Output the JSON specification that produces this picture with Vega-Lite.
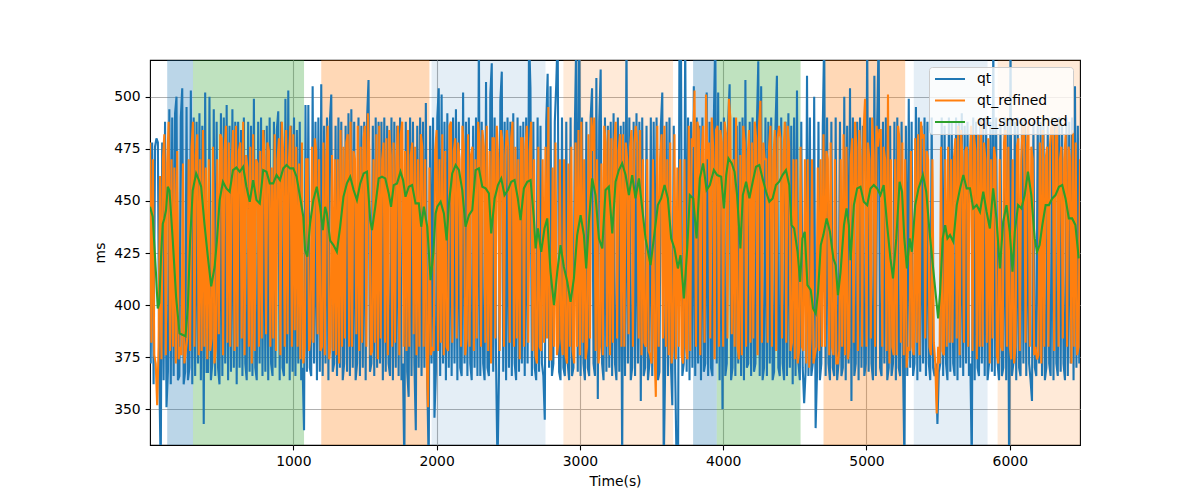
{
"$schema": "https://vega.github.io/schema/vega-lite/v6.json",
"width": 930, "height": 385,
"autosize": {"type": "none"},
"padding": {"left": 150, "top": 60, "right": 120, "bottom": 55},
"background": "white",
"config": {
  "font": "DejaVu Sans",
  "view": {"stroke": "black", "strokeWidth": 1.1},
  "axis": {"labelFont": "DejaVu Sans", "labelFontSize": 13.9, "labelColor": "black", "titleFont": "DejaVu Sans", "titleFontSize": 13.9, "titleFontWeight": "normal", "titleColor": "black", "tickColor": "black", "tickSize": 4.9, "tickWidth": 1.1, "domain": false, "gridColor": "#b0b0b0", "gridWidth": 1.1, "labelPadding": 4.9}
},
"datasets": {
"spans": [
{"start":120,"end":300,"phase":"A"},{"start":300,"end":1075,"phase":"B"},{"start":1195,"end":1950,"phase":"C"},{"start":1965,"end":2760,"phase":"D"},{"start":2885,"end":3650,"phase":"E"},
{"start":3790,"end":3955,"phase":"A"},{"start":3955,"end":4540,"phase":"B"},{"start":4700,"end":5270,"phase":"C"},{"start":5330,"end":5845,"phase":"D"},{"start":5915,"end":6490,"phase":"E"}
],
"qt": [
{"t":5,"v":372},{"t":15,"v":478},{"t":25,"v":362},{"t":35,"v":476},{"t":45,"v":480},{"t":55,"v":478},{"t":65,"v":366},{"t":75,"v":320},{"t":85,"v":478},{"t":95,"v":364},
{"t":105,"v":488},{"t":115,"v":351},{"t":125,"v":368},{"t":135,"v":494},{"t":145,"v":362},{"t":155,"v":490},{"t":165,"v":366},{"t":175,"v":492},{"t":185,"v":500},{"t":195,"v":364},
{"t":205,"v":366},{"t":215,"v":490},{"t":225,"v":504},{"t":235,"v":362},{"t":245,"v":368},{"t":255,"v":495},{"t":265,"v":364},{"t":275,"v":370},{"t":285,"v":503},{"t":295,"v":362},
{"t":305,"v":490},{"t":315,"v":366},{"t":325,"v":488},{"t":335,"v":372},{"t":345,"v":492},{"t":355,"v":364},{"t":365,"v":486},{"t":375,"v":343},{"t":385,"v":502},{"t":395,"v":368},
{"t":405,"v":368},{"t":415,"v":500},{"t":425,"v":364},{"t":435,"v":372},{"t":445,"v":494},{"t":455,"v":366},{"t":465,"v":488},{"t":475,"v":370},{"t":485,"v":362},{"t":495,"v":492},
{"t":505,"v":366},{"t":515,"v":490},{"t":525,"v":372},{"t":535,"v":496},{"t":545,"v":364},{"t":555,"v":486},{"t":565,"v":368},{"t":575,"v":494},{"t":585,"v":370},{"t":595,"v":488},
{"t":605,"v":362},{"t":615,"v":488},{"t":625,"v":370},{"t":635,"v":484},{"t":645,"v":366},{"t":655,"v":490},{"t":665,"v":372},{"t":675,"v":364},{"t":685,"v":488},{"t":695,"v":368},
{"t":705,"v":486},{"t":715,"v":366},{"t":725,"v":499},{"t":735,"v":370},{"t":745,"v":364},{"t":755,"v":488},{"t":765,"v":372},{"t":775,"v":490},{"t":785,"v":366},{"t":795,"v":484},
{"t":805,"v":368},{"t":815,"v":486},{"t":825,"v":364},{"t":835,"v":490},{"t":845,"v":372},{"t":855,"v":366},{"t":865,"v":488},{"t":875,"v":370},{"t":885,"v":484},{"t":895,"v":493},
{"t":905,"v":364},{"t":915,"v":488},{"t":925,"v":370},{"t":935,"v":366},{"t":945,"v":499},{"t":955,"v":372},{"t":965,"v":503},{"t":975,"v":364},{"t":985,"v":486},{"t":995,"v":368},
{"t":1005,"v":490},{"t":1015,"v":366},{"t":1025,"v":484},{"t":1035,"v":372},{"t":1045,"v":488},{"t":1055,"v":364},{"t":1065,"v":370},{"t":1075,"v":340},{"t":1085,"v":496},{"t":1095,"v":368},
{"t":1105,"v":496},{"t":1115,"v":370},{"t":1125,"v":366},{"t":1135,"v":505},{"t":1145,"v":372},{"t":1155,"v":488},{"t":1165,"v":364},{"t":1175,"v":490},{"t":1185,"v":368},{"t":1195,"v":506},
{"t":1205,"v":366},{"t":1215,"v":486},{"t":1225,"v":372},{"t":1235,"v":490},{"t":1245,"v":364},{"t":1255,"v":488},{"t":1265,"v":501},{"t":1275,"v":368},{"t":1285,"v":372},{"t":1295,"v":486},
{"t":1305,"v":366},{"t":1315,"v":490},{"t":1325,"v":370},{"t":1335,"v":488},{"t":1345,"v":364},{"t":1355,"v":372},{"t":1365,"v":486},{"t":1375,"v":368},{"t":1385,"v":492},{"t":1395,"v":366},
{"t":1405,"v":494},{"t":1415,"v":370},{"t":1425,"v":488},{"t":1435,"v":364},{"t":1445,"v":372},{"t":1455,"v":490},{"t":1465,"v":366},{"t":1475,"v":486},{"t":1485,"v":370},{"t":1495,"v":488},
{"t":1505,"v":364},{"t":1515,"v":490},{"t":1525,"v":508},{"t":1535,"v":368},{"t":1545,"v":372},{"t":1555,"v":486},{"t":1565,"v":366},{"t":1575,"v":490},{"t":1585,"v":370},{"t":1595,"v":488},
{"t":1605,"v":372},{"t":1615,"v":488},{"t":1625,"v":364},{"t":1635,"v":490},{"t":1645,"v":368},{"t":1655,"v":486},{"t":1665,"v":372},{"t":1675,"v":366},{"t":1685,"v":490},{"t":1695,"v":364},
{"t":1705,"v":488},{"t":1715,"v":370},{"t":1725,"v":486},{"t":1735,"v":366},{"t":1745,"v":490},{"t":1755,"v":364},{"t":1765,"v":372},{"t":1775,"v":322},{"t":1785,"v":488},{"t":1795,"v":368},
{"t":1805,"v":356},{"t":1815,"v":490},{"t":1825,"v":366},{"t":1835,"v":488},{"t":1845,"v":372},{"t":1855,"v":340},{"t":1865,"v":486},{"t":1875,"v":370},{"t":1885,"v":490},{"t":1895,"v":366},
{"t":1905,"v":488},{"t":1915,"v":370},{"t":1925,"v":497},{"t":1935,"v":364},{"t":1945,"v":322},{"t":1955,"v":486},{"t":1965,"v":372},{"t":1975,"v":490},{"t":1985,"v":346},{"t":1995,"v":368},
{"t":2005,"v":490},{"t":2015,"v":504},{"t":2025,"v":366},{"t":2035,"v":501},{"t":2045,"v":372},{"t":2055,"v":488},{"t":2065,"v":364},{"t":2075,"v":492},{"t":2085,"v":370},{"t":2095,"v":486},
{"t":2105,"v":366},{"t":2115,"v":490},{"t":2125,"v":372},{"t":2135,"v":494},{"t":2145,"v":364},{"t":2155,"v":488},{"t":2165,"v":370},{"t":2175,"v":366},{"t":2185,"v":502},{"t":2195,"v":372},
{"t":2205,"v":488},{"t":2215,"v":366},{"t":2225,"v":490},{"t":2235,"v":372},{"t":2245,"v":364},{"t":2255,"v":486},{"t":2265,"v":370},{"t":2275,"v":490},{"t":2285,"v":366},{"t":2295,"v":530},
{"t":2305,"v":366},{"t":2315,"v":488},{"t":2325,"v":372},{"t":2335,"v":364},{"t":2345,"v":507},{"t":2355,"v":370},{"t":2365,"v":366},{"t":2375,"v":501},{"t":2385,"v":516},{"t":2395,"v":368},
{"t":2405,"v":490},{"t":2415,"v":372},{"t":2425,"v":322},{"t":2435,"v":366},{"t":2445,"v":498},{"t":2455,"v":512},{"t":2465,"v":368},{"t":2475,"v":488},{"t":2485,"v":364},{"t":2495,"v":490},
{"t":2505,"v":370},{"t":2515,"v":488},{"t":2525,"v":366},{"t":2535,"v":492},{"t":2545,"v":372},{"t":2555,"v":364},{"t":2565,"v":490},{"t":2575,"v":368},{"t":2585,"v":486},{"t":2595,"v":372},
{"t":2605,"v":488},{"t":2615,"v":366},{"t":2625,"v":490},{"t":2635,"v":372},{"t":2645,"v":530},{"t":2655,"v":504},{"t":2665,"v":366},{"t":2675,"v":488},{"t":2685,"v":370},{"t":2695,"v":364},
{"t":2705,"v":490},{"t":2715,"v":368},{"t":2725,"v":486},{"t":2735,"v":372},{"t":2745,"v":366},{"t":2755,"v":345},{"t":2765,"v":488},{"t":2775,"v":511},{"t":2785,"v":370},{"t":2795,"v":505},
{"t":2805,"v":366},{"t":2815,"v":372},{"t":2825,"v":488},{"t":2835,"v":506},{"t":2845,"v":530},{"t":2855,"v":368},{"t":2865,"v":364},{"t":2875,"v":490},{"t":2885,"v":370},{"t":2895,"v":366},
{"t":2905,"v":488},{"t":2915,"v":372},{"t":2925,"v":364},{"t":2935,"v":490},{"t":2945,"v":366},{"t":2955,"v":370},{"t":2965,"v":486},{"t":2975,"v":530},{"t":2985,"v":368},{"t":2995,"v":530},
{"t":3005,"v":366},{"t":3015,"v":490},{"t":3025,"v":372},{"t":3035,"v":364},{"t":3045,"v":488},{"t":3055,"v":370},{"t":3065,"v":366},{"t":3075,"v":490},{"t":3085,"v":504},{"t":3095,"v":372},
{"t":3105,"v":366},{"t":3115,"v":509},{"t":3125,"v":355},{"t":3135,"v":488},{"t":3145,"v":513},{"t":3155,"v":372},{"t":3165,"v":364},{"t":3175,"v":490},{"t":3185,"v":368},{"t":3195,"v":486},
{"t":3205,"v":370},{"t":3215,"v":488},{"t":3225,"v":366},{"t":3235,"v":492},{"t":3245,"v":372},{"t":3255,"v":364},{"t":3265,"v":490},{"t":3275,"v":368},{"t":3285,"v":486},{"t":3295,"v":322},
{"t":3305,"v":488},{"t":3315,"v":366},{"t":3325,"v":530},{"t":3335,"v":372},{"t":3345,"v":490},{"t":3355,"v":364},{"t":3365,"v":370},{"t":3375,"v":488},{"t":3385,"v":366},{"t":3395,"v":492},
{"t":3405,"v":372},{"t":3415,"v":488},{"t":3425,"v":354},{"t":3435,"v":490},{"t":3445,"v":366},{"t":3455,"v":370},{"t":3465,"v":486},{"t":3475,"v":364},{"t":3485,"v":372},{"t":3495,"v":490},
{"t":3505,"v":366},{"t":3515,"v":488},{"t":3525,"v":372},{"t":3535,"v":490},{"t":3545,"v":364},{"t":3555,"v":368},{"t":3565,"v":486},{"t":3575,"v":502},{"t":3585,"v":322},{"t":3595,"v":370},
{"t":3605,"v":488},{"t":3615,"v":366},{"t":3625,"v":490},{"t":3635,"v":372},{"t":3645,"v":352},{"t":3655,"v":486},{"t":3665,"v":368},{"t":3675,"v":322},{"t":3685,"v":322},{"t":3695,"v":530},
{"t":3705,"v":530},{"t":3715,"v":366},{"t":3725,"v":372},{"t":3735,"v":530},{"t":3745,"v":368},{"t":3755,"v":490},{"t":3765,"v":364},{"t":3775,"v":488},{"t":3785,"v":370},{"t":3795,"v":505},
{"t":3805,"v":366},{"t":3815,"v":490},{"t":3825,"v":372},{"t":3835,"v":486},{"t":3845,"v":364},{"t":3855,"v":490},{"t":3865,"v":368},{"t":3875,"v":372},{"t":3885,"v":502},{"t":3895,"v":366},
{"t":3905,"v":488},{"t":3915,"v":370},{"t":3925,"v":366},{"t":3935,"v":490},{"t":3945,"v":530},{"t":3955,"v":372},{"t":3965,"v":502},{"t":3975,"v":364},{"t":3985,"v":488},{"t":3995,"v":350},
{"t":4005,"v":490},{"t":4015,"v":366},{"t":4025,"v":372},{"t":4035,"v":488},{"t":4045,"v":506},{"t":4055,"v":364},{"t":4065,"v":370},{"t":4075,"v":490},{"t":4085,"v":366},{"t":4095,"v":486},
{"t":4105,"v":372},{"t":4115,"v":488},{"t":4125,"v":366},{"t":4135,"v":490},{"t":4145,"v":364},{"t":4155,"v":508},{"t":4165,"v":370},{"t":4175,"v":372},{"t":4185,"v":488},{"t":4195,"v":366},
{"t":4205,"v":490},{"t":4215,"v":368},{"t":4225,"v":372},{"t":4235,"v":486},{"t":4245,"v":517},{"t":4255,"v":366},{"t":4265,"v":505},{"t":4275,"v":364},{"t":4285,"v":370},{"t":4295,"v":490},
{"t":4305,"v":366},{"t":4315,"v":488},{"t":4325,"v":372},{"t":4335,"v":490},{"t":4345,"v":364},{"t":4355,"v":368},{"t":4365,"v":486},{"t":4375,"v":510},{"t":4385,"v":370},{"t":4395,"v":366},
{"t":4405,"v":490},{"t":4415,"v":372},{"t":4425,"v":364},{"t":4435,"v":488},{"t":4445,"v":366},{"t":4455,"v":492},{"t":4465,"v":370},{"t":4475,"v":486},{"t":4485,"v":362},{"t":4495,"v":490},
{"t":4505,"v":366},{"t":4515,"v":503},{"t":4525,"v":372},{"t":4535,"v":364},{"t":4545,"v":488},{"t":4555,"v":370},{"t":4565,"v":353},{"t":4575,"v":368},{"t":4585,"v":510},{"t":4595,"v":366},
{"t":4605,"v":490},{"t":4615,"v":366},{"t":4625,"v":372},{"t":4635,"v":500},{"t":4645,"v":341},{"t":4655,"v":368},{"t":4665,"v":488},{"t":4675,"v":364},{"t":4685,"v":372},{"t":4695,"v":486},
{"t":4705,"v":530},{"t":4715,"v":366},{"t":4725,"v":490},{"t":4735,"v":372},{"t":4745,"v":364},{"t":4755,"v":488},{"t":4765,"v":370},{"t":4775,"v":366},{"t":4785,"v":490},{"t":4795,"v":364},
{"t":4805,"v":372},{"t":4815,"v":488},{"t":4825,"v":366},{"t":4835,"v":370},{"t":4845,"v":500},{"t":4855,"v":364},{"t":4865,"v":486},{"t":4875,"v":372},{"t":4885,"v":504},{"t":4895,"v":354},
{"t":4905,"v":490},{"t":4915,"v":366},{"t":4925,"v":372},{"t":4935,"v":488},{"t":4945,"v":364},{"t":4955,"v":490},{"t":4965,"v":370},{"t":4975,"v":486},{"t":4985,"v":366},{"t":4995,"v":372},
{"t":5005,"v":530},{"t":5015,"v":368},{"t":5025,"v":490},{"t":5035,"v":372},{"t":5045,"v":364},{"t":5055,"v":510},{"t":5065,"v":366},{"t":5075,"v":488},{"t":5085,"v":530},{"t":5095,"v":370},
{"t":5105,"v":366},{"t":5115,"v":488},{"t":5125,"v":372},{"t":5135,"v":490},{"t":5145,"v":364},{"t":5155,"v":370},{"t":5165,"v":486},{"t":5175,"v":366},{"t":5185,"v":372},{"t":5195,"v":488},
{"t":5205,"v":364},{"t":5215,"v":490},{"t":5225,"v":370},{"t":5235,"v":366},{"t":5245,"v":488},{"t":5255,"v":372},{"t":5265,"v":322},{"t":5275,"v":486},{"t":5285,"v":366},{"t":5295,"v":499},
{"t":5305,"v":370},{"t":5315,"v":488},{"t":5325,"v":366},{"t":5335,"v":372},{"t":5345,"v":495},{"t":5355,"v":364},{"t":5365,"v":490},{"t":5375,"v":368},{"t":5385,"v":486},{"t":5395,"v":372},
{"t":5405,"v":490},{"t":5415,"v":366},{"t":5425,"v":488},{"t":5435,"v":372},{"t":5445,"v":364},{"t":5455,"v":490},{"t":5465,"v":370},{"t":5475,"v":366},{"t":5485,"v":372},{"t":5495,"v":343},
{"t":5505,"v":368},{"t":5515,"v":372},{"t":5525,"v":490},{"t":5535,"v":366},{"t":5545,"v":486},{"t":5555,"v":372},{"t":5565,"v":364},{"t":5575,"v":490},{"t":5585,"v":368},{"t":5595,"v":488},
{"t":5605,"v":372},{"t":5615,"v":366},{"t":5625,"v":490},{"t":5635,"v":364},{"t":5645,"v":488},{"t":5655,"v":370},{"t":5665,"v":492},{"t":5675,"v":366},{"t":5685,"v":486},{"t":5695,"v":372},
{"t":5705,"v":488},{"t":5715,"v":366},{"t":5725,"v":372},{"t":5735,"v":322},{"t":5745,"v":490},{"t":5755,"v":364},{"t":5765,"v":488},{"t":5775,"v":370},{"t":5785,"v":366},{"t":5795,"v":490},
{"t":5805,"v":372},{"t":5815,"v":486},{"t":5825,"v":366},{"t":5835,"v":490},{"t":5845,"v":364},{"t":5855,"v":372},{"t":5865,"v":488},{"t":5875,"v":368},{"t":5885,"v":530},{"t":5895,"v":366},
{"t":5905,"v":490},{"t":5915,"v":372},{"t":5925,"v":364},{"t":5935,"v":488},{"t":5945,"v":366},{"t":5955,"v":370},{"t":5965,"v":490},{"t":5975,"v":364},{"t":5985,"v":486},{"t":5995,"v":322},
{"t":6005,"v":530},{"t":6015,"v":366},{"t":6025,"v":372},{"t":6035,"v":488},{"t":6045,"v":364},{"t":6055,"v":490},{"t":6065,"v":370},{"t":6075,"v":366},{"t":6085,"v":488},{"t":6095,"v":372},
{"t":6105,"v":490},{"t":6115,"v":366},{"t":6125,"v":486},{"t":6135,"v":372},{"t":6145,"v":364},{"t":6155,"v":354},{"t":6165,"v":488},{"t":6175,"v":370},{"t":6185,"v":366},{"t":6195,"v":490},
{"t":6205,"v":372},{"t":6215,"v":488},{"t":6225,"v":366},{"t":6235,"v":490},{"t":6245,"v":364},{"t":6255,"v":370},{"t":6265,"v":486},{"t":6275,"v":372},{"t":6285,"v":366},{"t":6295,"v":490},
{"t":6305,"v":364},{"t":6315,"v":488},{"t":6325,"v":372},{"t":6335,"v":366},{"t":6345,"v":490},{"t":6355,"v":368},{"t":6365,"v":486},{"t":6375,"v":372},{"t":6385,"v":364},{"t":6395,"v":490},
{"t":6405,"v":366},{"t":6415,"v":488},{"t":6425,"v":372},{"t":6435,"v":490},{"t":6445,"v":364},{"t":6455,"v":505},{"t":6465,"v":370},{"t":6475,"v":486},{"t":6485,"v":372}
],
"refined": [
{"t":0,"v":478},{"t":10,"v":382},{"t":20,"v":470},{"t":30,"v":376},{"t":40,"v":372},{"t":50,"v":352},{"t":60,"v":380},{"t":70,"v":462},{"t":80,"v":374},{"t":90,"v":470},
{"t":100,"v":482},{"t":110,"v":376},{"t":120,"v":468},{"t":130,"v":488},{"t":140,"v":378},{"t":150,"v":470},{"t":160,"v":380},{"t":170,"v":466},{"t":180,"v":372},{"t":190,"v":474},
{"t":200,"v":374},{"t":210,"v":380},{"t":220,"v":376},{"t":230,"v":468},{"t":240,"v":372},{"t":250,"v":378},{"t":260,"v":384},{"t":270,"v":470},{"t":280,"v":378},{"t":290,"v":476},
{"t":300,"v":488},{"t":310,"v":380},{"t":320,"v":472},{"t":330,"v":482},{"t":340,"v":376},{"t":350,"v":470},{"t":360,"v":378},{"t":370,"v":484},{"t":380,"v":380},{"t":390,"v":466},
{"t":400,"v":374},{"t":410,"v":470},{"t":420,"v":378},{"t":430,"v":384},{"t":440,"v":476},{"t":450,"v":372},{"t":460,"v":380},{"t":470,"v":470},{"t":480,"v":386},{"t":490,"v":482},
{"t":500,"v":480},{"t":510,"v":376},{"t":520,"v":474},{"t":530,"v":486},{"t":540,"v":382},{"t":550,"v":478},{"t":560,"v":380},{"t":570,"v":468},{"t":580,"v":484},{"t":590,"v":378},
{"t":600,"v":486},{"t":610,"v":380},{"t":620,"v":474},{"t":630,"v":478},{"t":640,"v":384},{"t":650,"v":488},{"t":660,"v":376},{"t":670,"v":472},{"t":680,"v":466},{"t":690,"v":380},
{"t":700,"v":476},{"t":710,"v":372},{"t":720,"v":482},{"t":730,"v":378},{"t":740,"v":470},{"t":750,"v":468},{"t":760,"v":380},{"t":770,"v":474},{"t":780,"v":384},{"t":790,"v":484},
{"t":800,"v":470},{"t":810,"v":386},{"t":820,"v":478},{"t":830,"v":474},{"t":840,"v":380},{"t":850,"v":466},{"t":860,"v":384},{"t":870,"v":482},{"t":880,"v":378},{"t":890,"v":470},
{"t":900,"v":480},{"t":910,"v":376},{"t":920,"v":488},{"t":930,"v":472},{"t":940,"v":380},{"t":950,"v":484},{"t":960,"v":386},{"t":970,"v":470},{"t":980,"v":486},{"t":990,"v":380},
{"t":1000,"v":482},{"t":1010,"v":388},{"t":1020,"v":476},{"t":1030,"v":380},{"t":1040,"v":468},{"t":1050,"v":374},{"t":1060,"v":478},{"t":1070,"v":372},{"t":1080,"v":380},{"t":1090,"v":470},
{"t":1100,"v":470},{"t":1110,"v":378},{"t":1120,"v":384},{"t":1130,"v":476},{"t":1140,"v":382},{"t":1150,"v":480},{"t":1160,"v":474},{"t":1170,"v":386},{"t":1180,"v":470},{"t":1190,"v":378},
{"t":1200,"v":380},{"t":1210,"v":478},{"t":1220,"v":376},{"t":1230,"v":470},{"t":1240,"v":486},{"t":1250,"v":374},{"t":1260,"v":380},{"t":1270,"v":472},{"t":1280,"v":378},{"t":1290,"v":470},
{"t":1300,"v":376},{"t":1310,"v":470},{"t":1320,"v":372},{"t":1330,"v":484},{"t":1340,"v":380},{"t":1350,"v":476},{"t":1360,"v":384},{"t":1370,"v":478},{"t":1380,"v":482},{"t":1390,"v":380},
{"t":1400,"v":488},{"t":1410,"v":380},{"t":1420,"v":474},{"t":1430,"v":470},{"t":1440,"v":386},{"t":1450,"v":486},{"t":1460,"v":378},{"t":1470,"v":476},{"t":1480,"v":382},{"t":1490,"v":480},
{"t":1500,"v":486},{"t":1510,"v":380},{"t":1520,"v":492},{"t":1530,"v":474},{"t":1540,"v":376},{"t":1550,"v":378},{"t":1560,"v":470},{"t":1570,"v":382},{"t":1580,"v":482},{"t":1590,"v":374},
{"t":1600,"v":486},{"t":1610,"v":384},{"t":1620,"v":470},{"t":1630,"v":478},{"t":1640,"v":382},{"t":1650,"v":480},{"t":1660,"v":376},{"t":1670,"v":484},{"t":1680,"v":472},{"t":1690,"v":380},
{"t":1700,"v":478},{"t":1710,"v":382},{"t":1720,"v":470},{"t":1730,"v":486},{"t":1740,"v":376},{"t":1750,"v":482},{"t":1760,"v":488},{"t":1770,"v":380},{"t":1780,"v":474},{"t":1790,"v":378},
{"t":1800,"v":484},{"t":1810,"v":380},{"t":1820,"v":472},{"t":1830,"v":478},{"t":1840,"v":386},{"t":1850,"v":476},{"t":1860,"v":376},{"t":1870,"v":470},{"t":1880,"v":380},{"t":1890,"v":482},
{"t":1900,"v":476},{"t":1910,"v":380},{"t":1920,"v":470},{"t":1930,"v":378},{"t":1940,"v":351},{"t":1950,"v":466},{"t":1960,"v":376},{"t":1970,"v":380},{"t":1980,"v":378},{"t":1990,"v":474},
{"t":2000,"v":484},{"t":2010,"v":378},{"t":2020,"v":470},{"t":2030,"v":382},{"t":2040,"v":482},{"t":2050,"v":376},{"t":2060,"v":474},{"t":2070,"v":380},{"t":2080,"v":378},{"t":2090,"v":486},
{"t":2100,"v":488},{"t":2110,"v":382},{"t":2120,"v":474},{"t":2130,"v":480},{"t":2140,"v":384},{"t":2150,"v":478},{"t":2160,"v":470},{"t":2170,"v":380},{"t":2180,"v":486},{"t":2190,"v":476},
{"t":2200,"v":376},{"t":2210,"v":384},{"t":2220,"v":482},{"t":2230,"v":380},{"t":2240,"v":472},{"t":2250,"v":476},{"t":2260,"v":378},{"t":2270,"v":470},{"t":2280,"v":384},{"t":2290,"v":488},
{"t":2300,"v":478},{"t":2310,"v":380},{"t":2320,"v":484},{"t":2330,"v":476},{"t":2340,"v":382},{"t":2350,"v":486},{"t":2360,"v":378},{"t":2370,"v":474},{"t":2380,"v":372},{"t":2390,"v":480},
{"t":2400,"v":480},{"t":2410,"v":384},{"t":2420,"v":486},{"t":2430,"v":470},{"t":2440,"v":378},{"t":2450,"v":484},{"t":2460,"v":478},{"t":2470,"v":380},{"t":2480,"v":472},{"t":2490,"v":484},
{"t":2500,"v":476},{"t":2510,"v":382},{"t":2520,"v":480},{"t":2530,"v":488},{"t":2540,"v":380},{"t":2550,"v":476},{"t":2560,"v":384},{"t":2570,"v":470},{"t":2580,"v":374},{"t":2590,"v":480},
{"t":2600,"v":480},{"t":2610,"v":380},{"t":2620,"v":476},{"t":2630,"v":486},{"t":2640,"v":382},{"t":2650,"v":474},{"t":2660,"v":488},{"t":2670,"v":378},{"t":2680,"v":470},{"t":2690,"v":376},
{"t":2700,"v":372},{"t":2710,"v":476},{"t":2720,"v":380},{"t":2730,"v":378},{"t":2740,"v":470},{"t":2750,"v":382},{"t":2760,"v":476},{"t":2770,"v":384},{"t":2780,"v":495},{"t":2790,"v":374},
{"t":2800,"v":374},{"t":2810,"v":466},{"t":2820,"v":380},{"t":2830,"v":478},{"t":2840,"v":376},{"t":2850,"v":382},{"t":2860,"v":470},{"t":2870,"v":384},{"t":2880,"v":376},{"t":2890,"v":470},
{"t":2900,"v":376},{"t":2910,"v":372},{"t":2920,"v":468},{"t":2930,"v":380},{"t":2940,"v":476},{"t":2950,"v":378},{"t":2960,"v":372},{"t":2970,"v":478},{"t":2980,"v":380},{"t":2990,"v":484},
{"t":3000,"v":376},{"t":3010,"v":488},{"t":3020,"v":382},{"t":3030,"v":470},{"t":3040,"v":374},{"t":3050,"v":380},{"t":3060,"v":482},{"t":3070,"v":384},{"t":3080,"v":490},{"t":3090,"v":474},
{"t":3100,"v":490},{"t":3110,"v":378},{"t":3120,"v":470},{"t":3130,"v":372},{"t":3140,"v":380},{"t":3150,"v":468},{"t":3160,"v":376},{"t":3170,"v":486},{"t":3180,"v":478},{"t":3190,"v":380},
{"t":3200,"v":484},{"t":3210,"v":376},{"t":3220,"v":480},{"t":3230,"v":382},{"t":3240,"v":478},{"t":3250,"v":488},{"t":3260,"v":384},{"t":3270,"v":474},{"t":3280,"v":482},{"t":3290,"v":380},
{"t":3300,"v":482},{"t":3310,"v":380},{"t":3320,"v":478},{"t":3330,"v":470},{"t":3340,"v":386},{"t":3350,"v":476},{"t":3360,"v":484},{"t":3370,"v":380},{"t":3380,"v":478},{"t":3390,"v":486},
{"t":3400,"v":478},{"t":3410,"v":384},{"t":3420,"v":484},{"t":3430,"v":376},{"t":3440,"v":470},{"t":3450,"v":382},{"t":3460,"v":380},{"t":3470,"v":470},{"t":3480,"v":378},{"t":3490,"v":376},
{"t":3500,"v":372},{"t":3510,"v":470},{"t":3520,"v":380},{"t":3530,"v":356},{"t":3540,"v":486},{"t":3550,"v":380},{"t":3560,"v":470},{"t":3570,"v":482},{"t":3580,"v":384},{"t":3590,"v":486},
{"t":3600,"v":380},{"t":3610,"v":470},{"t":3620,"v":376},{"t":3630,"v":478},{"t":3640,"v":372},{"t":3650,"v":380},{"t":3660,"v":482},{"t":3670,"v":374},{"t":3680,"v":466},{"t":3690,"v":380},
{"t":3700,"v":470},{"t":3710,"v":376},{"t":3720,"v":372},{"t":3730,"v":470},{"t":3740,"v":380},{"t":3750,"v":374},{"t":3760,"v":486},{"t":3770,"v":378},{"t":3780,"v":480},{"t":3790,"v":476},
{"t":3800,"v":503},{"t":3810,"v":380},{"t":3820,"v":488},{"t":3830,"v":484},{"t":3840,"v":376},{"t":3850,"v":472},{"t":3860,"v":486},{"t":3870,"v":382},{"t":3880,"v":501},{"t":3890,"v":470},
{"t":3900,"v":478},{"t":3910,"v":384},{"t":3920,"v":490},{"t":3930,"v":476},{"t":3940,"v":374},{"t":3950,"v":484},{"t":3960,"v":486},{"t":3970,"v":380},{"t":3980,"v":484},{"t":3990,"v":478},
{"t":4000,"v":380},{"t":4010,"v":488},{"t":4020,"v":482},{"t":4030,"v":384},{"t":4040,"v":499},{"t":4050,"v":490},{"t":4060,"v":386},{"t":4070,"v":470},{"t":4080,"v":380},{"t":4090,"v":490},
{"t":4100,"v":380},{"t":4110,"v":374},{"t":4120,"v":472},{"t":4130,"v":376},{"t":4140,"v":486},{"t":4150,"v":478},{"t":4160,"v":380},{"t":4170,"v":470},{"t":4180,"v":484},{"t":4190,"v":382},
{"t":4200,"v":478},{"t":4210,"v":384},{"t":4220,"v":488},{"t":4230,"v":480},{"t":4240,"v":376},{"t":4250,"v":486},{"t":4260,"v":498},{"t":4270,"v":382},{"t":4280,"v":478},{"t":4290,"v":470},
{"t":4300,"v":470},{"t":4310,"v":382},{"t":4320,"v":476},{"t":4330,"v":486},{"t":4340,"v":380},{"t":4350,"v":470},{"t":4360,"v":484},{"t":4370,"v":378},{"t":4380,"v":480},{"t":4390,"v":486},
{"t":4400,"v":480},{"t":4410,"v":384},{"t":4420,"v":472},{"t":4430,"v":488},{"t":4440,"v":382},{"t":4450,"v":486},{"t":4460,"v":476},{"t":4470,"v":378},{"t":4480,"v":382},{"t":4490,"v":470},
{"t":4500,"v":374},{"t":4510,"v":470},{"t":4520,"v":372},{"t":4530,"v":378},{"t":4540,"v":476},{"t":4550,"v":380},{"t":4560,"v":378},{"t":4570,"v":470},{"t":4580,"v":372},{"t":4590,"v":470},
{"t":4600,"v":370},{"t":4610,"v":384},{"t":4620,"v":470},{"t":4630,"v":372},{"t":4640,"v":376},{"t":4650,"v":380},{"t":4660,"v":466},{"t":4670,"v":378},{"t":4680,"v":470},{"t":4690,"v":380},
{"t":4700,"v":482},{"t":4710,"v":380},{"t":4720,"v":474},{"t":4730,"v":470},{"t":4740,"v":376},{"t":4750,"v":478},{"t":4760,"v":380},{"t":4770,"v":376},{"t":4780,"v":470},{"t":4790,"v":372},
{"t":4800,"v":372},{"t":4810,"v":378},{"t":4820,"v":470},{"t":4830,"v":380},{"t":4840,"v":482},{"t":4850,"v":376},{"t":4860,"v":476},{"t":4870,"v":374},{"t":4880,"v":380},{"t":4890,"v":470},
{"t":4900,"v":480},{"t":4910,"v":382},{"t":4920,"v":488},{"t":4930,"v":476},{"t":4940,"v":378},{"t":4950,"v":484},{"t":4960,"v":470},{"t":4970,"v":380},{"t":4980,"v":484},{"t":4990,"v":499},
{"t":5000,"v":380},{"t":5010,"v":478},{"t":5020,"v":470},{"t":5030,"v":384},{"t":5040,"v":490},{"t":5050,"v":472},{"t":5060,"v":380},{"t":5070,"v":486},{"t":5080,"v":476},{"t":5090,"v":484},
{"t":5100,"v":484},{"t":5110,"v":380},{"t":5120,"v":476},{"t":5130,"v":470},{"t":5140,"v":378},{"t":5150,"v":501},{"t":5160,"v":372},{"t":5170,"v":470},{"t":5180,"v":380},{"t":5190,"v":376},
{"t":5200,"v":470},{"t":5210,"v":376},{"t":5220,"v":486},{"t":5230,"v":480},{"t":5240,"v":382},{"t":5250,"v":478},{"t":5260,"v":376},{"t":5270,"v":470},{"t":5280,"v":370},{"t":5290,"v":380},
{"t":5300,"v":378},{"t":5310,"v":474},{"t":5320,"v":380},{"t":5330,"v":376},{"t":5340,"v":480},{"t":5350,"v":382},{"t":5360,"v":482},{"t":5370,"v":376},{"t":5380,"v":488},{"t":5390,"v":480},
{"t":5400,"v":482},{"t":5410,"v":384},{"t":5420,"v":474},{"t":5430,"v":470},{"t":5440,"v":380},{"t":5450,"v":376},{"t":5460,"v":470},{"t":5470,"v":382},{"t":5480,"v":372},{"t":5490,"v":348},
{"t":5500,"v":380},{"t":5510,"v":372},{"t":5520,"v":476},{"t":5530,"v":378},{"t":5540,"v":376},{"t":5550,"v":470},{"t":5560,"v":380},{"t":5570,"v":476},{"t":5580,"v":382},{"t":5590,"v":470},
{"t":5600,"v":382},{"t":5610,"v":470},{"t":5620,"v":480},{"t":5630,"v":384},{"t":5640,"v":486},{"t":5650,"v":376},{"t":5660,"v":484},{"t":5670,"v":470},{"t":5680,"v":382},{"t":5690,"v":474},
{"t":5700,"v":476},{"t":5710,"v":380},{"t":5720,"v":470},{"t":5730,"v":486},{"t":5740,"v":378},{"t":5750,"v":482},{"t":5760,"v":474},{"t":5770,"v":374},{"t":5780,"v":482},{"t":5790,"v":380},
{"t":5800,"v":488},{"t":5810,"v":380},{"t":5820,"v":478},{"t":5830,"v":470},{"t":5840,"v":382},{"t":5850,"v":480},{"t":5860,"v":372},{"t":5870,"v":470},{"t":5880,"v":384},{"t":5890,"v":476},
{"t":5900,"v":470},{"t":5910,"v":376},{"t":5920,"v":372},{"t":5930,"v":470},{"t":5940,"v":380},{"t":5950,"v":378},{"t":5960,"v":478},{"t":5970,"v":484},{"t":5980,"v":380},{"t":5990,"v":476},
{"t":6000,"v":380},{"t":6010,"v":374},{"t":6020,"v":470},{"t":6030,"v":372},{"t":6040,"v":380},{"t":6050,"v":476},{"t":6060,"v":480},{"t":6070,"v":378},{"t":6080,"v":470},{"t":6090,"v":486},
{"t":6100,"v":486},{"t":6110,"v":382},{"t":6120,"v":476},{"t":6130,"v":488},{"t":6140,"v":380},{"t":6150,"v":476},{"t":6160,"v":470},{"t":6170,"v":376},{"t":6180,"v":380},{"t":6190,"v":374},
{"t":6200,"v":376},{"t":6210,"v":478},{"t":6220,"v":372},{"t":6230,"v":484},{"t":6240,"v":380},{"t":6250,"v":470},{"t":6260,"v":476},{"t":6270,"v":380},{"t":6280,"v":476},{"t":6290,"v":486},
{"t":6300,"v":486},{"t":6310,"v":378},{"t":6320,"v":482},{"t":6330,"v":488},{"t":6340,"v":380},{"t":6350,"v":470},{"t":6360,"v":476},{"t":6370,"v":384},{"t":6380,"v":470},{"t":6390,"v":482},
{"t":6400,"v":380},{"t":6410,"v":476},{"t":6420,"v":470},{"t":6430,"v":372},{"t":6440,"v":484},{"t":6450,"v":380},{"t":6460,"v":478},{"t":6470,"v":376},{"t":6480,"v":380},{"t":6490,"v":470}
],
"smoothed": [
{"t":0,"v":447.2},{"t":19,"v":442.4},{"t":42,"v":415},{"t":54,"v":398.4},{"t":65,"v":401},{"t":77,"v":423},{"t":89,"v":439},{"t":100,"v":441.6},{"t":112,"v":445.6},{"t":124,"v":456.8},
{"t":136,"v":455},{"t":159,"v":431},{"t":182,"v":404},{"t":206,"v":386.5},{"t":229,"v":385.7},{"t":248,"v":385},{"t":264,"v":399},{"t":280,"v":431},{"t":298,"v":455},{"t":322,"v":463.2},
{"t":341,"v":460},{"t":357,"v":456.8},{"t":380,"v":439},{"t":404,"v":423},{"t":427,"v":409},{"t":451,"v":418.4},{"t":467,"v":431},{"t":486,"v":450.4},{"t":509,"v":459.2},{"t":533,"v":456},
{"t":556,"v":454.4},{"t":579,"v":464.8},{"t":603,"v":466},{"t":626,"v":464},{"t":650,"v":466.4},{"t":673,"v":456.8},{"t":696,"v":449.6},{"t":720,"v":460},{"t":743,"v":450.4},{"t":766,"v":448.8},
{"t":790,"v":464.8},{"t":813,"v":464},{"t":836,"v":458.4},{"t":860,"v":458.4},{"t":883,"v":462.4},{"t":907,"v":460},{"t":930,"v":465.6},{"t":953,"v":467.2},{"t":977,"v":465.6},{"t":1000,"v":465.6},
{"t":1023,"v":461.6},{"t":1047,"v":452},{"t":1070,"v":442.4},{"t":1082,"v":426.4},{"t":1098,"v":423.2},{"t":1117,"v":439.2},{"t":1140,"v":450.4},{"t":1164,"v":456.8},{"t":1187,"v":447.2},{"t":1206,"v":436},
{"t":1222,"v":447.2},{"t":1234,"v":444},{"t":1257,"v":431},{"t":1280,"v":428.8},{"t":1304,"v":425.6},{"t":1327,"v":437.6},{"t":1350,"v":452},{"t":1374,"v":458.4},{"t":1397,"v":461.6},{"t":1421,"v":455.2},
{"t":1444,"v":450.4},{"t":1467,"v":458.4},{"t":1491,"v":463.2},{"t":1514,"v":464},{"t":1537,"v":440.8},{"t":1549,"v":436},{"t":1572,"v":447.2},{"t":1596,"v":460.8},{"t":1619,"v":461.6},{"t":1642,"v":460.8},
{"t":1666,"v":453.6},{"t":1682,"v":447.2},{"t":1701,"v":457.6},{"t":1724,"v":458.4},{"t":1748,"v":464},{"t":1766,"v":460},{"t":1783,"v":452},{"t":1806,"v":456.8},{"t":1829,"v":457.6},{"t":1853,"v":448.8},
{"t":1876,"v":448.8},{"t":1893,"v":437.6},{"t":1911,"v":447.2},{"t":1935,"v":437.6},{"t":1958,"v":412},{"t":1977,"v":424.8},{"t":1993,"v":444},{"t":2005,"v":447.2},{"t":2028,"v":449.6},{"t":2051,"v":444},
{"t":2070,"v":431},{"t":2086,"v":448.6},{"t":2109,"v":463.2},{"t":2133,"v":467.2},{"t":2156,"v":464.8},{"t":2179,"v":455.2},{"t":2202,"v":437.6},{"t":2226,"v":443.2},{"t":2249,"v":445.6},{"t":2272,"v":464.8},
{"t":2295,"v":465.6},{"t":2319,"v":456.8},{"t":2342,"v":456},{"t":2365,"v":453.6},{"t":2381,"v":434.4},{"t":2405,"v":451.2},{"t":2428,"v":457.6},{"t":2451,"v":460.8},{"t":2474,"v":452.8},{"t":2498,"v":455.2},
{"t":2521,"v":459.2},{"t":2544,"v":460},{"t":2567,"v":451.2},{"t":2586,"v":440.8},{"t":2609,"v":456},{"t":2633,"v":459.2},{"t":2656,"v":460},{"t":2679,"v":441.6},{"t":2691,"v":427.2},{"t":2707,"v":436.8},
{"t":2730,"v":425.6},{"t":2753,"v":436.8},{"t":2772,"v":441.6},{"t":2795,"v":416},{"t":2819,"v":400},{"t":2842,"v":416},{"t":2865,"v":428.8},{"t":2888,"v":418.4},{"t":2912,"v":411.2},{"t":2935,"v":401.6},
{"t":2958,"v":412.8},{"t":2981,"v":433.6},{"t":3005,"v":443.2},{"t":3028,"v":433.6},{"t":3044,"v":417.6},{"t":3063,"v":440},{"t":3086,"v":460.8},{"t":3109,"v":452.8},{"t":3133,"v":432},{"t":3156,"v":427.2},
{"t":3179,"v":455.2},{"t":3202,"v":456.8},{"t":3226,"v":434.4},{"t":3249,"v":459.2},{"t":3272,"v":464.8},{"t":3295,"v":468},{"t":3319,"v":462.4},{"t":3342,"v":452.8},{"t":3365,"v":462.4},{"t":3388,"v":451.2},
{"t":3412,"v":460.8},{"t":3435,"v":446.4},{"t":3458,"v":432},{"t":3493,"v":419.2},{"t":3516,"v":432},{"t":3544,"v":448},{"t":3567,"v":451.2},{"t":3591,"v":457.6},{"t":3614,"v":451.2},{"t":3637,"v":432},
{"t":3660,"v":427.2},{"t":3684,"v":417.6},{"t":3702,"v":424},{"t":3726,"v":403.2},{"t":3749,"v":427.2},{"t":3767,"v":452.8},{"t":3791,"v":451.2},{"t":3814,"v":432},{"t":3837,"v":460.8},{"t":3860,"v":468},
{"t":3884,"v":455.2},{"t":3907,"v":457.6},{"t":3935,"v":464.8},{"t":3958,"v":462.4},{"t":3986,"v":461.6},{"t":4005,"v":446.4},{"t":4021,"v":462.4},{"t":4037,"v":470.4},{"t":4060,"v":468},{"t":4079,"v":464},
{"t":4097,"v":452.8},{"t":4120,"v":427.2},{"t":4137,"v":452.8},{"t":4160,"v":459.2},{"t":4183,"v":451.2},{"t":4206,"v":459.2},{"t":4229,"v":466.4},{"t":4252,"v":467.2},{"t":4275,"v":460.8},{"t":4299,"v":454.4},
{"t":4322,"v":449.6},{"t":4345,"v":451.2},{"t":4368,"v":457.6},{"t":4391,"v":459.2},{"t":4414,"v":462.4},{"t":4438,"v":464.8},{"t":4461,"v":457.6},{"t":4477,"v":438.4},{"t":4495,"v":436.8},{"t":4519,"v":425.6},
{"t":4537,"v":411.2},{"t":4553,"v":432},{"t":4569,"v":435.2},{"t":4588,"v":409.6},{"t":4611,"v":407.2},{"t":4627,"v":398.4},{"t":4646,"v":396},{"t":4662,"v":406.4},{"t":4681,"v":428.8},{"t":4699,"v":433.6},
{"t":4722,"v":441.6},{"t":4745,"v":435.2},{"t":4769,"v":422.4},{"t":4785,"v":419.2},{"t":4801,"v":404.8},{"t":4819,"v":416},{"t":4843,"v":438.4},{"t":4861,"v":446.4},{"t":4877,"v":438.4},{"t":4889,"v":421.6},
{"t":4912,"v":448},{"t":4935,"v":456},{"t":4958,"v":456.8},{"t":4981,"v":449.6},{"t":5005,"v":448},{"t":5028,"v":456},{"t":5051,"v":457.6},{"t":5074,"v":456},{"t":5097,"v":452.8},{"t":5120,"v":457.6},
{"t":5144,"v":438.4},{"t":5167,"v":422.4},{"t":5185,"v":412.8},{"t":5208,"v":432},{"t":5231,"v":459.2},{"t":5248,"v":454.4},{"t":5264,"v":432},{"t":5282,"v":417.6},{"t":5301,"v":432},{"t":5317,"v":425.6},
{"t":5340,"v":448},{"t":5363,"v":456},{"t":5394,"v":462.4},{"t":5417,"v":454.4},{"t":5440,"v":435.2},{"t":5463,"v":419.2},{"t":5486,"v":403.2},{"t":5500,"v":393.6},{"t":5514,"v":406.4},{"t":5532,"v":432},
{"t":5549,"v":438.4},{"t":5565,"v":432},{"t":5583,"v":433.6},{"t":5606,"v":430.4},{"t":5630,"v":448},{"t":5653,"v":456},{"t":5676,"v":462.4},{"t":5699,"v":456},{"t":5722,"v":456},{"t":5745,"v":446.4},
{"t":5769,"v":448},{"t":5792,"v":444.8},{"t":5815,"v":454.4},{"t":5838,"v":444.8},{"t":5861,"v":436.8},{"t":5884,"v":456},{"t":5907,"v":441.6},{"t":5931,"v":417.6},{"t":5954,"v":440},{"t":5977,"v":448},
{"t":6000,"v":435.2},{"t":6019,"v":416},{"t":6035,"v":435.2},{"t":6058,"v":448},{"t":6081,"v":446.4},{"t":6104,"v":452.8},{"t":6127,"v":464},{"t":6150,"v":452.8},{"t":6174,"v":432},{"t":6190,"v":425.6},
{"t":6208,"v":428.8},{"t":6227,"v":438.4},{"t":6250,"v":448},{"t":6273,"v":448},{"t":6296,"v":451.2},{"t":6319,"v":452.8},{"t":6343,"v":456.8},{"t":6366,"v":457.6},{"t":6389,"v":451.2},{"t":6412,"v":441.6},
{"t":6435,"v":441.6},{"t":6458,"v":438.4},{"t":6481,"v":422.4}
]
},
"layer": [
  {
    "data": {"name": "spans"},
    "mark": {"type": "rect"},
    "encoding": {
      "x": {"field": "start", "type": "quantitative", "scale": {"domain": [0, 6490], "nice": false, "zero": false}, "axis": {"title": "Time(s)", "values": [1000, 2000, 3000, 4000, 5000, 6000], "format": "d", "titlePadding": 6}},
      "x2": {"field": "end"},
      "color": {"field": "phase", "type": "nominal", "scale": {"domain": ["A", "B", "C", "D", "E"], "range": ["rgba(31,119,180,0.3)", "rgba(44,160,44,0.3)", "rgba(255,127,14,0.3)", "rgba(31,119,180,0.12)", "rgba(255,127,14,0.16)"]}, "legend": null}
    }
  },
  {
    "encoding": {
      "x": {"field": "t", "type": "quantitative", "axis": {"title": "Time(s)", "values": [1000, 2000, 3000, 4000, 5000, 6000], "format": "d", "titlePadding": 6}},
      "y": {"field": "v", "type": "quantitative", "scale": {"domain": [332.9, 517.6], "nice": false, "zero": false}, "axis": {"title": "ms", "values": [350, 375, 400, 425, 450, 475, 500], "titlePadding": 6}}
    },
    "layer": [
      {"data": {"name": "qt"}, "mark": {"type": "line", "clip": true, "strokeWidth": 2.1},
       "encoding": {"color": {"datum": "qt", "type": "nominal", "scale": {"domain": ["qt", "qt_refined", "qt_smoothed"], "range": ["#1f77b4", "#ff7f0e", "#2ca02c"]},
         "legend": {"orient": "top-right", "offset": 7, "title": null, "symbolType": "stroke", "symbolSize": 900, "symbolStrokeWidth": 2, "clipHeight": 14, "labelFont": "DejaVu Sans", "labelFontSize": 13.9, "labelColor": "black", "labelOffset": 11, "fillColor": "rgba(255,255,255,0.8)", "strokeColor": "#cccccc", "cornerRadius": 3, "padding": 5, "rowPadding": 7.5}}}},
      {"data": {"name": "refined"}, "mark": {"type": "line", "clip": true, "strokeWidth": 2.1},
       "encoding": {"color": {"datum": "qt_refined", "type": "nominal"}}},
      {"data": {"name": "smoothed"}, "mark": {"type": "line", "clip": true, "strokeWidth": 2.1},
       "encoding": {"color": {"datum": "qt_smoothed", "type": "nominal"}}}
    ]
  }
],
"resolve": {"scale": {"color": "independent"}}
}
